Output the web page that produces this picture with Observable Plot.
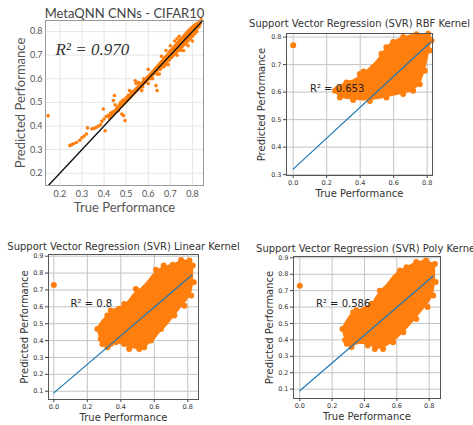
<!DOCTYPE html>
<html><head><meta charset="utf-8">
<script src="https://cdn.jsdelivr.net/npm/d3@7"></script>
<script src="https://cdn.jsdelivr.net/npm/@observablehq/plot@0.6"></script>
<style>
body{margin:0;background:#fff}
#fig{position:relative;width:473px;height:425px;overflow:hidden;background:#fff}
#fig svg{position:absolute}
</style></head><body><div id="fig"></div>
<script>
// ---------- shared ----------
const ORANGE = "#ff7f0e";
const xLabel = "True Performance";
const yLabel = "Predicted Performance";

// ---------- panel 1: MetaQNN CNNs - CIFAR10 ----------
const metaTitle = "MetaQNN CNNs - CIFAR10";
const metaR2 = "R² = 0.970";
const metaTicks = [0.2, 0.3, 0.4, 0.5, 0.6, 0.7, 0.8];
const metaPoints = [
  [0.147,0.444],[0.245,0.317],[0.252,0.32],[0.262,0.325],[0.275,0.33],[0.29,0.34],[0.3,0.35],
  [0.31,0.358],[0.32,0.366],[0.325,0.392],[0.345,0.388],[0.355,0.39],[0.365,0.395],[0.375,0.4],
  [0.385,0.405],[0.405,0.38],[0.39,0.42],[0.4,0.43],[0.41,0.44],[0.397,0.472],[0.42,0.445],
  [0.43,0.455],[0.44,0.46],[0.442,0.508],[0.45,0.49],[0.447,0.529],[0.455,0.47],[0.46,0.48],
  [0.465,0.465],[0.47,0.49],[0.48,0.451],[0.488,0.444],[0.495,0.423],[0.475,0.5],[0.485,0.51],
  [0.49,0.5],[0.5,0.52],[0.505,0.51],[0.51,0.53],[0.52,0.525],[0.525,0.545],[0.53,0.54],
  [0.54,0.55],[0.541,0.592],[0.55,0.56],[0.556,0.585],[0.56,0.57],[0.57,0.58],[0.575,0.565],
  [0.58,0.6],[0.59,0.59],[0.6,0.61],[0.61,0.6],[0.62,0.63],[0.635,0.571],[0.64,0.55],
  [0.63,0.64],[0.64,0.62],[0.65,0.66],[0.655,0.64],[0.66,0.67],[0.67,0.65],[0.675,0.69],
  [0.68,0.66],[0.69,0.7],[0.695,0.68],[0.7,0.72],[0.705,0.69],[0.71,0.7],[0.715,0.73],
  [0.72,0.71],[0.725,0.74],[0.73,0.7],[0.735,0.72],[0.74,0.75],[0.745,0.73],[0.75,0.76],
  [0.755,0.74],[0.76,0.72],[0.765,0.77],[0.77,0.75],[0.775,0.78],[0.78,0.76],[0.785,0.79],
  [0.79,0.77],[0.795,0.8],[0.8,0.78],[0.805,0.81],[0.81,0.79],[0.815,0.82],[0.82,0.8],
  [0.825,0.83],[0.83,0.82],[0.835,0.84],[0.84,0.85],[0.7,0.74],[0.72,0.76],[0.68,0.72],
  [0.66,0.695],[0.74,0.78],[0.6,0.58],[0.62,0.6],[0.57,0.55],[0.69,0.66],[0.75,0.72],
  [0.78,0.74],[0.8,0.76],[0.65,0.62],[0.545,0.58],[0.515,0.55],[0.6,0.64],[0.73,0.77]
];
const metaBandX  = [0.42, 0.5, 0.6, 0.68, 0.74, 0.8, 0.845];
const metaBandLo = [0.42, 0.49, 0.585, 0.655, 0.71, 0.77, 0.83];
const metaBandHi = [0.44, 0.52, 0.615, 0.70, 0.765, 0.825, 0.85];
const metaDiag = [0.135, 0.85];

// ---------- SVR panels ----------
const svrTitles = [
  "Support Vector Regression (SVR) RBF Kernel",
  "Support Vector Regression (SVR) Linear Kernel",
  "Support Vector Regression (SVR) Poly Kernel"
];
const svrR2 = ["R² = 0.653", "R² = 0.8", "R² = 0.586"];
const svrXTicks = [0, 0.2, 0.4, 0.6, 0.8];
const rbfYTicks = [0.3, 0.4, 0.5, 0.6, 0.7, 0.8];
const linYTicks = [0.1, 0.2, 0.3, 0.4, 0.5, 0.6, 0.7, 0.8, 0.9];

// RBF cloud envelope: x, lower, upper
const rbfBandX  = [0.25,0.28,0.32,0.36,0.40,0.45,0.50,0.53,0.56,0.60,0.66,0.72,0.76,0.79,0.815,0.828];
const rbfBandLo = [0.60,0.58,0.573,0.571,0.569,0.568,0.572,0.575,0.58,0.585,0.593,0.605,0.63,0.68,0.745,0.785];
const rbfBandHi = [0.61,0.625,0.635,0.645,0.66,0.685,0.715,0.74,0.765,0.785,0.80,0.81,0.812,0.812,0.81,0.80];
const rbfPoints = [[0,0.77],[0.25,0.605],[0.26,0.61],[0.279,0.58],[0.3,0.62],[0.318,0.635],[0.358,0.571],
  [0.398,0.666],[0.42,0.675],[0.458,0.568],[0.478,0.69],[0.49,0.695],[0.527,0.739],[0.557,0.58],
  [0.557,0.763],[0.597,0.782],[0.657,0.593],[0.657,0.8],[0.716,0.605],[0.736,0.81],[0.756,0.629],
  [0.786,0.678],[0.806,0.812],[0.816,0.751],[0.826,0.788],[0.335,0.632],[0.35,0.628]];
const rbfFit = [[0,0.32],[0.822,0.782]];

// Linear cloud envelope
const linBandX  = [0.26,0.29,0.32,0.36,0.40,0.44,0.48,0.52,0.56,0.60,0.64,0.68,0.72,0.76,0.80,0.82,0.835];
const linBandLo = [0.455,0.38,0.36,0.385,0.375,0.36,0.35,0.35,0.37,0.40,0.45,0.49,0.54,0.59,0.64,0.67,0.74];
const linBandHi = [0.475,0.52,0.55,0.585,0.60,0.63,0.68,0.71,0.75,0.80,0.83,0.845,0.855,0.875,0.875,0.865,0.84];
const linPoints = [[0,0.73],[0.26,0.469],[0.29,0.38],[0.32,0.36],[0.32,0.548],[0.34,0.578],[0.39,0.588],
  [0.42,0.617],[0.49,0.706],[0.61,0.819],[0.656,0.845],[0.71,0.849],[0.76,0.878],[0.81,0.874],
  [0.83,0.845],[0.836,0.746],[0.82,0.667],[0.78,0.607],[0.72,0.548],[0.64,0.469],[0.58,0.4],
  [0.54,0.36],[0.51,0.35],[0.45,0.35],[0.42,0.38],[0.37,0.39],[0.34,0.38],[0.3,0.44],[0.28,0.41]];
const linFit = [[0,0.09],[0.825,0.789]];

// Poly cloud envelope
const polyBandX  = [0.264,0.29,0.32,0.36,0.40,0.443,0.47,0.50,0.54,0.58,0.62,0.66,0.72,0.78,0.81,0.825,0.84];
const polyBandLo = [0.455,0.376,0.356,0.37,0.37,0.36,0.345,0.345,0.36,0.386,0.42,0.46,0.528,0.60,0.64,0.67,0.75];
const polyBandHi = [0.475,0.52,0.56,0.58,0.60,0.62,0.66,0.70,0.74,0.79,0.823,0.843,0.874,0.884,0.875,0.868,0.85];
const polyPoints = [[0,0.73],[0.264,0.467],[0.29,0.376],[0.32,0.356],[0.33,0.569],[0.35,0.58],[0.443,0.62],
  [0.495,0.7],[0.619,0.823],[0.66,0.843],[0.72,0.874],[0.78,0.884],[0.835,0.863],[0.84,0.752],
  [0.825,0.67],[0.79,0.6],[0.72,0.528],[0.64,0.447],[0.577,0.386],[0.515,0.345],[0.464,0.345],
  [0.42,0.366],[0.3,0.44],[0.28,0.4]];
const polyFit = [[0,0.09],[0.825,0.789]];

const r2Anchor = [0.1, 0.6];

// ---------- build ----------
const fig = document.getElementById("fig");
function place(svg, left, top) {
  svg.style.left = left + "px"; svg.style.top = top + "px";
  svg.style.overflow = "visible";
  fig.appendChild(svg);
}
function toBand(xs, lo, hi) { return xs.map((x, i) => ({x, lo: lo[i], hi: hi[i]})); }

// panel 1
{
  const band = toBand(metaBandX, metaBandLo, metaBandHi);
  const svg = Plot.plot({
    width: 236, height: 215, marginLeft: 45, marginTop: 20, marginRight: 33, marginBottom: 30,
    style: {fontFamily: "Lato", fontSize: "9px", color: "#555", background: "transparent", overflow: "visible"},
    x: {domain: [0.135, 0.85]},
    y: {domain: [0.148, 0.847]},
    marks: [
      Plot.gridX(metaTicks, {stroke: "#e6e6e6", strokeOpacity: 1}),
      Plot.gridY(metaTicks, {stroke: "#e6e6e6", strokeOpacity: 1}),
      Plot.areaY(band, {x: "x", y1: "lo", y2: "hi", fill: ORANGE, curve: "catmull-rom"}),
      Plot.dot(metaPoints, {x: d => d[0], y: d => d[1], r: 1.8, fill: ORANGE}),
      Plot.line(metaDiag, {x: d => d, y: d => d, stroke: "#111", strokeWidth: 1.4, clip: true}),
      Plot.axisX(metaTicks, {tickSize: 0, tickPadding: 5, tickFormat: d3.format(".1f"), label: null, fill: "#555"}),
      Plot.axisY(metaTicks, {tickSize: 0, tickPadding: 3, tickFormat: d3.format(".1f"), label: null, fill: "#555"}),
      Plot.frame({stroke: "#999"}),
      Plot.text([{x: 0.18, y: 0.7, t: metaR2}], {x: "x", y: "y", text: "t", textAnchor: "start", lineAnchor: "bottom",
        fontFamily: "Liberation Serif", fontStyle: "italic", fontSize: 17, fill: "#333"}),
      Plot.text([metaTitle], {text: d => d, frameAnchor: "top", dy: -7, lineAnchor: "middle", textAnchor: "middle", fontSize: 13, fill: "#444"}),
      Plot.text([xLabel], {text: d => d, frameAnchor: "bottom", dy: 22, lineAnchor: "middle", textAnchor: "middle", fontSize: 13, fill: "#555"}),
      Plot.text([yLabel], {text: d => d, frameAnchor: "left", rotate: -90, dx: -25, lineAnchor: "middle", textAnchor: "middle", fontSize: 13, fill: "#555"})
    ]
  });
  place(svg, 0, 0);
}

function svrPanel(o) {
  const band = toBand(o.bx, o.blo, o.bhi);
  const svg = Plot.plot({
    width: o.w, height: o.h, marginLeft: o.ml, marginTop: o.mt, marginRight: o.mr, marginBottom: o.mb,
    style: {fontFamily: "DejaVu Sans", fontSize: "6.5px", color: "#333", background: "transparent", overflow: "visible"},
    x: {domain: o.xd},
    y: {domain: o.yd},
    marks: [
      Plot.gridX(svrXTicks, {stroke: "#c4c4c4", strokeOpacity: 1}),
      Plot.gridY(o.yt, {stroke: "#c4c4c4", strokeOpacity: 1}),
      Plot.areaY(band, {x: "x", y1: "lo", y2: "hi", fill: ORANGE, curve: "catmull-rom"}),
      Plot.dot(o.pts, {x: d => d[0], y: d => d[1], r: 3, fill: ORANGE}),
      Plot.line(o.fit, {x: d => d[0], y: d => d[1], stroke: "#1f77b4", strokeWidth: 1.2}),
      Plot.axisX(svrXTicks, {tickSize: 3, tickPadding: 2, tickFormat: d3.format(".1f"), label: null, stroke: "#444", fill: "#333"}),
      Plot.axisY(o.yt, {tickSize: 3, tickPadding: 2, tickFormat: d3.format(".1f"), label: null, stroke: "#444", fill: "#333"}),
      Plot.frame({stroke: "#555"}),
      Plot.text([{x: r2Anchor[0], y: r2Anchor[1], t: o.r2}], {x: "x", y: "y", text: "t", textAnchor: "start", lineAnchor: "bottom",
        fontSize: 10, fill: "#222"}),
      Plot.text([o.title], {text: d => d, frameAnchor: "top", dy: o.tdy, lineAnchor: "middle", textAnchor: "middle", fontSize: 10, fill: "#333"}),
      Plot.text([xLabel], {text: d => d, frameAnchor: "bottom", dy: 18, lineAnchor: "middle", textAnchor: "middle", fontSize: 10, fill: "#333"}),
      Plot.text([yLabel], {text: d => d, frameAnchor: "left", rotate: -90, dx: o.ydx, lineAnchor: "middle", textAnchor: "middle", fontSize: 10, fill: "#333"})
    ]
  });
  place(svg, o.left, o.top);
}

svrPanel({left: 236, top: 0, w: 237, h: 215, ml: 50, mt: 33, mr: 41, mb: 40,
  xd: [-0.04, 0.832], yd: [0.297, 0.813], yt: rbfYTicks,
  bx: rbfBandX, blo: rbfBandLo, bhi: rbfBandHi, pts: rbfPoints, fit: rbfFit,
  r2: svrR2[0], title: svrTitles[0], tdy: -10, ydx: -25});
svrPanel({left: 0, top: 215, w: 236, h: 210, ml: 48, mt: 39, mr: 38, mb: 26,
  xd: [-0.032, 0.864], yd: [0.051, 0.91], yt: linYTicks,
  bx: linBandX, blo: linBandLo, bhi: linBandHi, pts: linPoints, fit: linFit,
  r2: svrR2[1], title: svrTitles[1], tdy: -8, ydx: -24});
svrPanel({left: 236, top: 215, w: 237, h: 210, ml: 57, mt: 41, mr: 33, mb: 27,
  xd: [-0.039, 0.87], yd: [0.043, 0.908], yt: linYTicks,
  bx: polyBandX, blo: polyBandLo, bhi: polyBandHi, pts: polyPoints, fit: polyFit,
  r2: svrR2[2], title: svrTitles[2], tdy: -8, ydx: -24});
</script></body></html>
